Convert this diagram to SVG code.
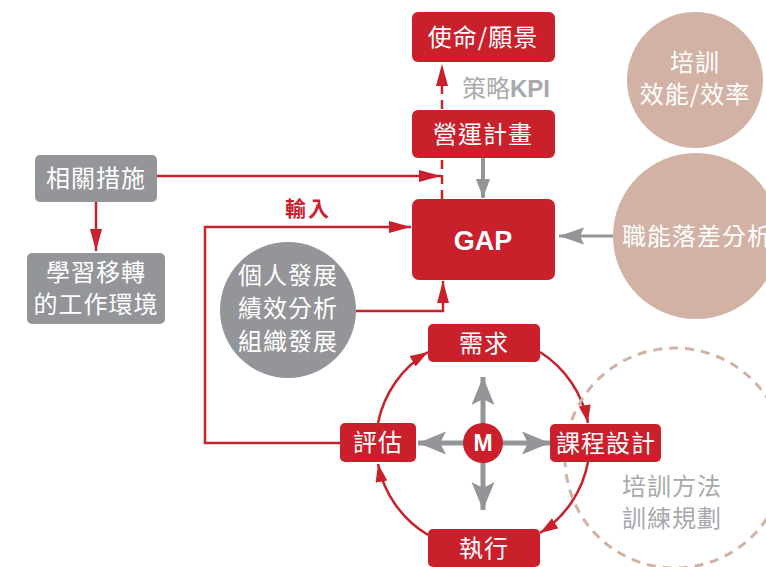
<svg xmlns="http://www.w3.org/2000/svg" width="766" height="567" viewBox="0 0 766 567">
<defs>
<style>
.t{font-family:"Noto Sans CJK TC","Noto Sans CJK SC",sans-serif;font-size:24px;fill:#fff;text-anchor:middle;letter-spacing:1px}
.red{fill:#c9202c}
.gray{fill:#939598}
.tan{fill:#d2b2a5}
.rl{fill:none;stroke:#c9202c;stroke-width:2.5}
.gl{fill:none;stroke:#939598}
</style>
<marker id="ra" markerUnits="userSpaceOnUse" markerWidth="24" markerHeight="14" refX="22" refY="6" orient="auto"><path d="M0,0 L22,6 L0,12 z" fill="#c9202c"/></marker>
<marker id="rs" markerUnits="userSpaceOnUse" markerWidth="20" markerHeight="14" refX="18" refY="6" orient="auto"><path d="M0,0 L18,6 L0,12 z" fill="#c9202c"/></marker>
<marker id="ga" markerUnits="userSpaceOnUse" markerWidth="30" markerHeight="24" refX="28" refY="11.5" orient="auto"><path d="M0,0 L28,11.5 L0,23 L6,11.5 z" fill="#939598"/></marker>
<marker id="gs" markerUnits="userSpaceOnUse" markerWidth="26" markerHeight="20" refX="25" refY="8.5" orient="auto"><path d="M0,0 L25,8.5 L0,17 L4,8.5 z" fill="#939598"/></marker>
<marker id="gv" markerUnits="userSpaceOnUse" markerWidth="20" markerHeight="16" refX="19" refY="7" orient="auto"><path d="M0,0 L19,7 L0,14 z" fill="#939598"/></marker>
</defs>

<g id="connectors">
<path class="rl" d="M442,199 L442,64" stroke-dasharray="9 6" marker-end="url(#ra)"/>
<path class="gl" stroke-width="4" d="M483,158 L483,198" marker-end="url(#gv)"/>
<path class="rl" d="M157,176 L441,176" marker-end="url(#ra)"/>
<path class="rl" d="M96,202 L96,251" marker-end="url(#ra)"/>
<path class="rl" d="M340,443 L205,443 L205,227 L411,227" marker-end="url(#ra)"/>
<path class="rl" d="M356,311 L443,311 L443,281" marker-end="url(#ra)"/>
<path class="gl" stroke-width="3" d="M613,236 L559,236" marker-end="url(#gs)"/>
<path class="rl" d="M378,423 A107,107 0 0 1 428,352" marker-end="url(#rs)"/>
<path class="rl" d="M540,352 A107,107 0 0 1 588,423" marker-end="url(#rs)"/>
<path class="rl" d="M588,462 A107,107 0 0 1 540,533" marker-end="url(#rs)"/>
<path class="rl" d="M428,535 A107,107 0 0 1 378,464" marker-end="url(#rs)"/>
<path class="gl" stroke-width="5" d="M483,443 L483,377" marker-end="url(#ga)"/>
<path class="gl" stroke-width="5" d="M483,443 L483,510" marker-end="url(#ga)"/>
<path class="gl" stroke-width="5" d="M483,443 L418,443" marker-end="url(#ga)"/>
<path class="gl" stroke-width="5" d="M483,443 L550,443" marker-end="url(#ga)"/>
</g>

<g id="mission"><rect class="red" x="412" y="12" width="143" height="50" rx="6"/><text class="t" x="483" y="46">使命/願景</text></g>
<g id="kpi"><text x="462" y="97" style="font-family:'Noto Sans CJK TC',sans-serif;font-size:24px;fill:#a7a9ac">策略<tspan font-weight="bold" font-family="Liberation Sans, sans-serif">KPI</tspan></text></g>
<g id="ops"><rect class="red" x="412" y="110" width="143" height="48" rx="6"/><text class="t" x="483" y="143">營運計畫</text></g>
<g id="gap"><rect class="red" x="412" y="199" width="143" height="81" rx="7"/><text x="483" y="250" style="font-family:'Liberation Sans',sans-serif;font-size:27px;font-weight:bold;fill:#fff;text-anchor:middle">GAP</text></g>
<g id="measures"><rect class="gray" x="35" y="155" width="122" height="47" rx="5"/><text class="t" x="96" y="187">相關措施</text></g>
<g id="transfer"><rect class="gray" x="27" y="253" width="138" height="71" rx="5"/><text class="t" x="96" y="281">學習移轉</text><text class="t" x="96" y="313">的工作環境</text></g>
<g id="input-label"><text x="308" y="216" style="font-family:'Noto Sans CJK TC',sans-serif;font-size:21px;font-weight:bold;fill:#c9202c;text-anchor:middle;letter-spacing:2px">輸入</text></g>
<g id="dev"><circle class="gray" cx="288" cy="310" r="68"/><text class="t" x="288" y="284">個人發展</text><text class="t" x="288" y="317">績效分析</text><text class="t" x="288" y="350">組織發展</text></g>
<g id="eff"><circle class="tan" cx="695" cy="80" r="68"/><text class="t" x="695" y="71">培訓</text><text class="t" x="695" y="103">效能/效率</text></g>
<g id="gapanalysis"><circle class="tan" cx="696" cy="236" r="83"/><text class="t" x="697" y="245">職能落差分析</text></g>
<g id="method"><circle cx="675" cy="458" r="110" fill="none" stroke="#d2b2a5" stroke-width="3" stroke-dasharray="9 7"/><text class="t" x="672" y="495" style="fill:#a7a9ac">培訓方法</text><text class="t" x="672" y="527" style="fill:#a7a9ac">訓練規劃</text></g>
<g id="need"><rect class="red" x="428" y="324" width="112" height="38" rx="5"/><text class="t" x="484" y="352">需求</text></g>
<g id="design"><rect class="red" x="550" y="424" width="111" height="38" rx="5"/><text class="t" x="606" y="452">課程設計</text></g>
<g id="exec"><rect class="red" x="428" y="529" width="112" height="38" rx="5"/><text class="t" x="484" y="557">執行</text></g>
<g id="eval"><rect class="red" x="340" y="423" width="76" height="39" rx="5"/><text class="t" x="378" y="451">評估</text></g>
<g id="m"><circle class="red" cx="483" cy="443" r="20"/><text x="483" y="451" style="font-family:'Liberation Sans',sans-serif;font-size:23px;font-weight:bold;fill:#fff;text-anchor:middle">M</text></g>
</svg>
